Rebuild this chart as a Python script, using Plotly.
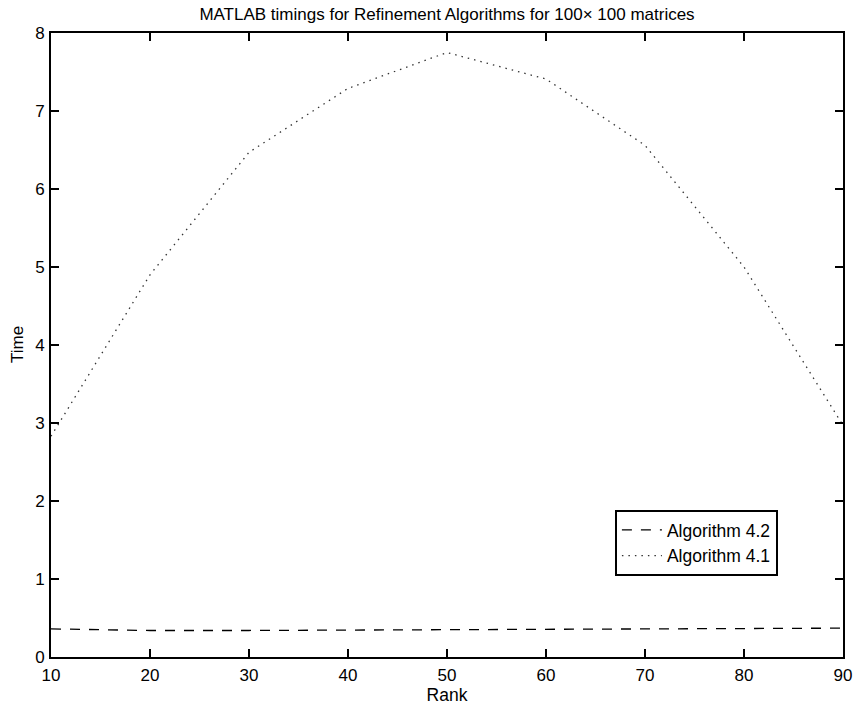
import plotly.graph_objects as go

rank = [10, 20, 30, 40, 50, 60, 70, 80, 90]
alg42 = [0.36, 0.34, 0.34, 0.345, 0.35, 0.355, 0.36, 0.365, 0.37]
alg41 = [2.83, 4.90, 6.47, 7.29, 7.75, 7.41, 6.56, 5.00, 2.97]

x_ticks = [10, 20, 30, 40, 50, 60, 70, 80, 90]
y_ticks = [0, 1, 2, 3, 4, 5, 6, 7, 8]

FONT = "Liberation Sans, Arial, sans-serif"

fig = go.Figure()
fig.add_trace(go.Scatter(x=rank, y=alg42, mode="lines", name="Algorithm 4.2",
                         line=dict(color="black", width=1.3, dash="10px,9px")))
fig.add_trace(go.Scatter(x=rank, y=alg41, mode="lines", name="Algorithm 4.1",
                         line=dict(color="#333333", width=1.3, dash="1.5px,5px")))

axis_common = dict(showline=True, linecolor="black", linewidth=2, mirror="ticks",
                   ticks="inside", ticklen=8, tickwidth=1.5, tickcolor="black",
                   showgrid=False, zeroline=False, automargin=False,
                   tickfont=dict(family=FONT, size=17, color="black"))

fig.update_layout(
    width=853, height=705,
    margin=dict(l=51, r=10, t=33, b=48, autoexpand=False),
    paper_bgcolor="white", plot_bgcolor="white",
    font=dict(family=FONT, color="black", size=17),
    title=dict(text="MATLAB timings for Refinement Algorithms for 100\u00d7 100 matrices",
               x=(51 + 843) / 2 / 853, xanchor="center", y=1 - 14 / 705, yanchor="middle",
               font=dict(size=17, color="black"), automargin=False),
    xaxis=dict(range=[10, 90], tickvals=x_ticks, ticklabelstandoff=2,
               title=dict(text="Rank", standoff=2, font=dict(size=17.5)), **axis_common),
    yaxis=dict(range=[0, 8], tickvals=y_ticks, ticklabelstandoff=1, **axis_common),
    legend=dict(x=0.712, y=0.2356, xanchor="left", yanchor="top",
                bgcolor="white", bordercolor="black", borderwidth=2,
                font=dict(size=17.5, color="black"), tracegroupgap=0,
                itemwidth=40),
    showlegend=True,
    annotations=[dict(text="Time", xref="paper", yref="paper",
                      x=-34 / 792, y=0.5, xanchor="center", yanchor="middle",
                      textangle=-90, showarrow=False,
                      font=dict(size=17, color="black", family=FONT))],
)

fig.write_html("out.html", post_script="document.body.style.margin='0';",
               config={"displayModeBar": False})
